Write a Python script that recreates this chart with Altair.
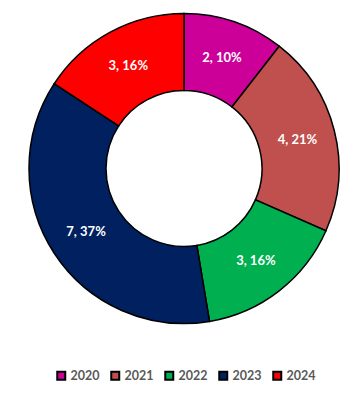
import altair as alt
import pandas as pd

years = ["2020", "2021", "2022", "2023", "2024"]
counts = [2, 4, 3, 7, 3]
percents = [10, 21, 16, 37, 16]
colors = ["#CC0099", "#C0504D", "#00B050", "#002060", "#FF0000"]

df = pd.DataFrame({
    "year": years,
    "count": counts,
    "label": [f"{c}, {p}%" for c, p in zip(counts, percents)],
})

base = alt.Chart(df).encode(
    theta=alt.Theta("count:Q", stack=True),
    order=alt.Order("year:N"),
    x=alt.value(176),
    y=alt.value(160.5),
)

arcs = base.mark_arc(
    innerRadius=78, outerRadius=155, stroke="black", strokeWidth=1.5
).encode(
    color=alt.Color(
        "year:N",
        scale=alt.Scale(domain=years, range=colors),
        legend=alt.Legend(
            title=None,
            orient="none",
            direction="horizontal",
            legendX=47,
            legendY=361,
            symbolType="square",
            symbolSize=64,
            symbolStrokeColor="black",
            symbolStrokeWidth=2,
            labelFont="Lato",
            labelFontWeight="bold",
            labelFontSize=12.5,
            labelColor="#595959",
            labelOffset=3,
            columnPadding=7,
            padding=0,
        ),
    )
)

texts = base.mark_text(
    radius=117, font="Lato", fontWeight="bold", fontSize=13, color="white"
).encode(text="label:N")

chart = alt.layer(arcs, texts).properties(
    width=345, height=377, padding=0, autosize=alt.AutoSizeParams(type="none")
).configure_view(stroke=None)

chart.save("out.html", embed_options={"renderer": "svg", "actions": False})
